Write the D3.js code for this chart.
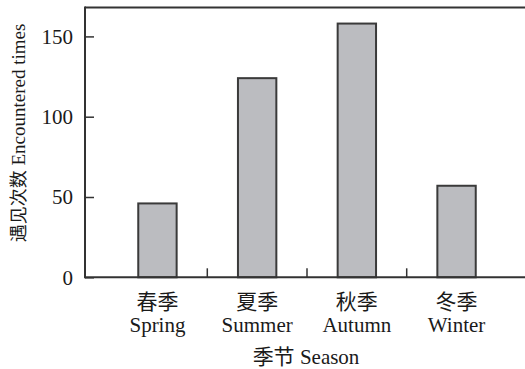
<!DOCTYPE html>
<html>
<head>
<meta charset="utf-8">
<script src="https://cdn.jsdelivr.net/npm/d3@7"></script>
<style>
  html, body { margin: 0; padding: 0; background: #fff; }
</style>
</head>
<body>
<svg id="chart" width="525" height="369"></svg>
<script>
// Encounter counts by season
const seasonsZh = ["春季", "夏季", "秋季", "冬季"];
const seasonsEn = ["Spring", "Summer", "Autumn", "Winter"];
const counts = [46, 124, 158, 57];
const yTicks = [0, 50, 100, 150];

const fontSize = 21;
const textColor = "#1a1a1a";

// Latin text in a Times-style serif, Chinese in the CJK font
function styleText(sel, size = fontSize) {
  return sel.style("font-family", '"Liberation Serif", "Times New Roman", Tinos')
    .style("font-size", size + "px")
    .attr("fill", textColor);
}
function styleCjk(sel, size = fontSize) {
  return sel.style("font-family", '"Noto Sans CJK SC"')
    .style("font-size", size + "px")
    .attr("fill", textColor);
}

const svg = d3.select("#chart");
const plotLeft = 85, plotRight = 530, plotTop = 7.5, plotBottom = 277.3;

const y = d3.scaleLinear().domain([0, 168]).range([plotBottom, plotTop]);
const x = d3.scaleBand().domain(seasonsEn).range([107.6, 506.4]).paddingInner(0.615).paddingOuter(0.3075);

// Bars
svg.append("g").selectAll("rect").data(counts).join("rect")
  .attr("x", (d, i) => x(seasonsEn[i]))
  .attr("y", d => y(d))
  .attr("width", x.bandwidth())
  .attr("height", d => y(0) - y(d))
  .attr("fill", "#bbbcc0")
  .attr("stroke", "#3a3a3a")
  .attr("stroke-width", 2);

// Frame: top and bottom lines, left axis
const frame = svg.append("g").attr("stroke", "#333").attr("stroke-width", 2).attr("fill", "none");
frame.append("line").attr("x1", plotLeft).attr("x2", plotRight).attr("y1", plotTop).attr("y2", plotTop);
frame.append("line").attr("x1", plotLeft).attr("x2", plotRight).attr("y1", plotBottom).attr("y2", plotBottom);
frame.append("line").attr("x1", plotLeft).attr("x2", plotLeft).attr("y1", plotTop - 1).attr("y2", plotBottom + 1);

// Y axis ticks and labels
const yAxis = d3.axisRight(y).tickValues(yTicks).tickSize(9).tickFormat("");
const yg = svg.append("g").attr("transform", `translate(${plotLeft},0)`).call(yAxis);
yg.select(".domain").remove();
yg.selectAll(".tick line").attr("stroke", "#333").attr("stroke-width", 1.5);
svg.append("g").selectAll("text").data(yTicks).join("text")
  .attr("x", 73).attr("y", d => y(d))
  .attr("dy", "0.35em")
  .attr("text-anchor", "end")
  .call(styleText)
  .text(d => d);

// Category separators
const step = x.step();
const seps = seasonsEn.slice(1).map(s => x(s) - step * x.paddingInner() / 2);
svg.append("g").selectAll("line").data(seps).join("line")
  .attr("x1", d => d).attr("x2", d => d)
  .attr("y1", plotBottom).attr("y2", plotBottom - 9)
  .attr("stroke", "#333").attr("stroke-width", 1.5);

// Category labels
const cats = svg.append("g").selectAll("g").data(seasonsEn).join("g")
  .attr("transform", d => `translate(${x(d) + x.bandwidth() / 2},0)`);
cats.append("text").attr("y", 309).attr("text-anchor", "middle").call(styleCjk)
  .text((d, i) => seasonsZh[i]);
cats.append("text").attr("y", 332).attr("text-anchor", "middle").call(styleText)
  .text(d => d);

// Axis titles (CJK part and Latin part in their own tspans)
const xTitle = svg.append("text").attr("x", 306).attr("y", 364).attr("text-anchor", "middle").call(styleText);
xTitle.append("tspan").call(styleCjk).text("季节");
xTitle.append("tspan").text(" Season");

const yTitle = svg.append("text")
  .attr("transform", "translate(25,133) rotate(-90)")
  .attr("text-anchor", "middle")
  .call(styleText, 19);
yTitle.append("tspan").call(styleCjk, 18).text("遇见次数");
yTitle.append("tspan").text(" Encountered times");
</script>
</body>
</html>
